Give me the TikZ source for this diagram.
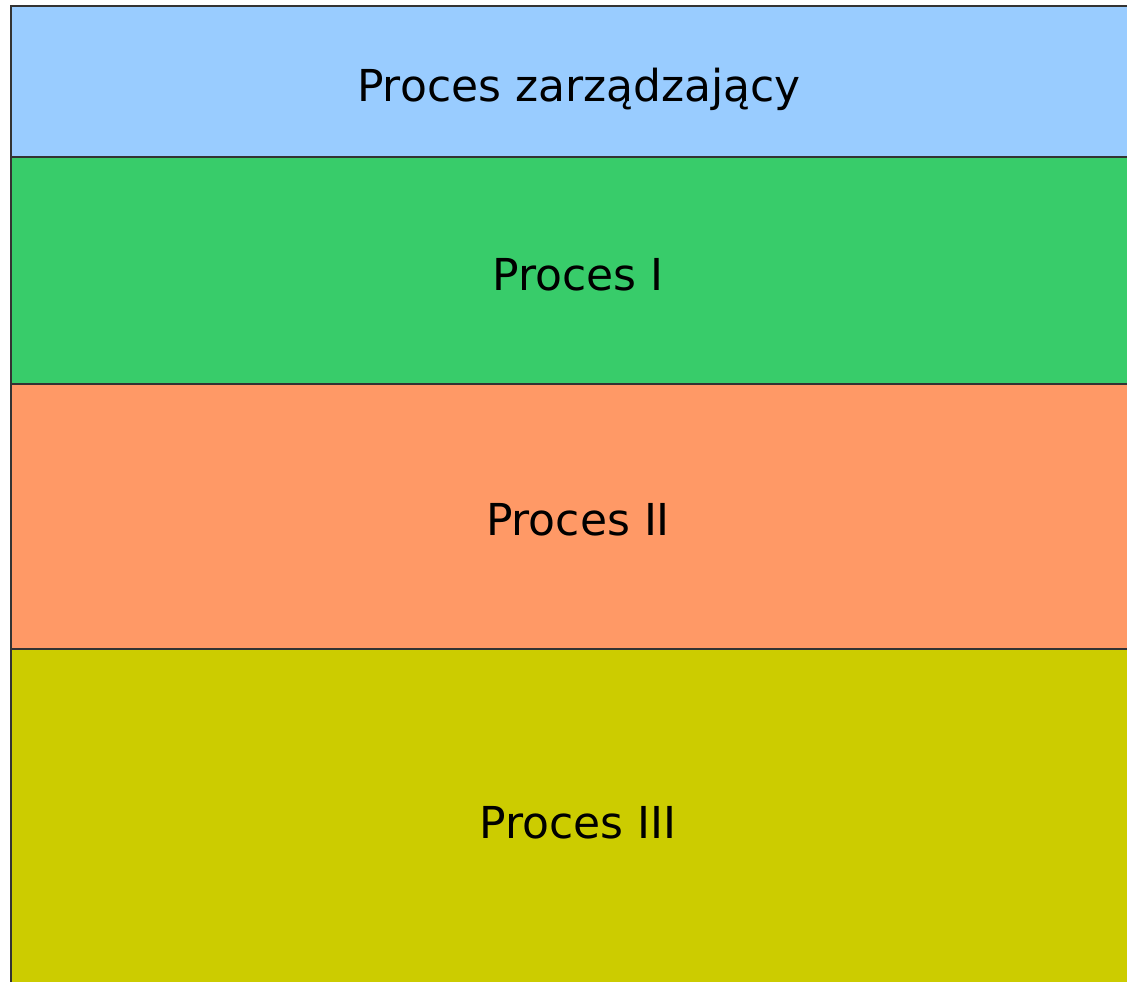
\documentclass[tikz,border=0pt]{standalone}
\usepackage{fontspec}
\setmainfont{DejaVu Sans}
\definecolor{bandblue}{HTML}{99CCFF}
\definecolor{bandgreen}{HTML}{38CC6A}
\definecolor{bandorange}{HTML}{FF9966}
\definecolor{bandyellow}{HTML}{CCCC00}
\definecolor{edge}{HTML}{333333}
\begin{document}
\begin{tikzpicture}[x=1pt,y=-1pt,
  band/.style={draw=edge, line width=1.2pt},
  label/.style={font=\fontsize{44}{50}\selectfont, inner sep=0pt, anchor=base}]
\useasboundingbox (0,0) rectangle (1127,982);
\clip (0,0) rectangle (1127,982);
\fill[white] (0,0) rectangle (1127,982);
\filldraw[band, fill=bandblue]   (11,6)   rectangle (1140,157);
\filldraw[band, fill=bandgreen]  (11,157) rectangle (1140,384);
\filldraw[band, fill=bandorange] (11,384) rectangle (1140,649);
\filldraw[band, fill=bandyellow] (11,649) rectangle (1140,1000);
\node[label] (mgr) at (579,101) {Proces zarządzający};
\node[label] (p1)  at (578,290) {Proces I};
\node[label] (p2)  at (578,535) {Proces II};
\node[label] (p3)  at (578,838) {Proces III};
\end{tikzpicture}
\end{document}
